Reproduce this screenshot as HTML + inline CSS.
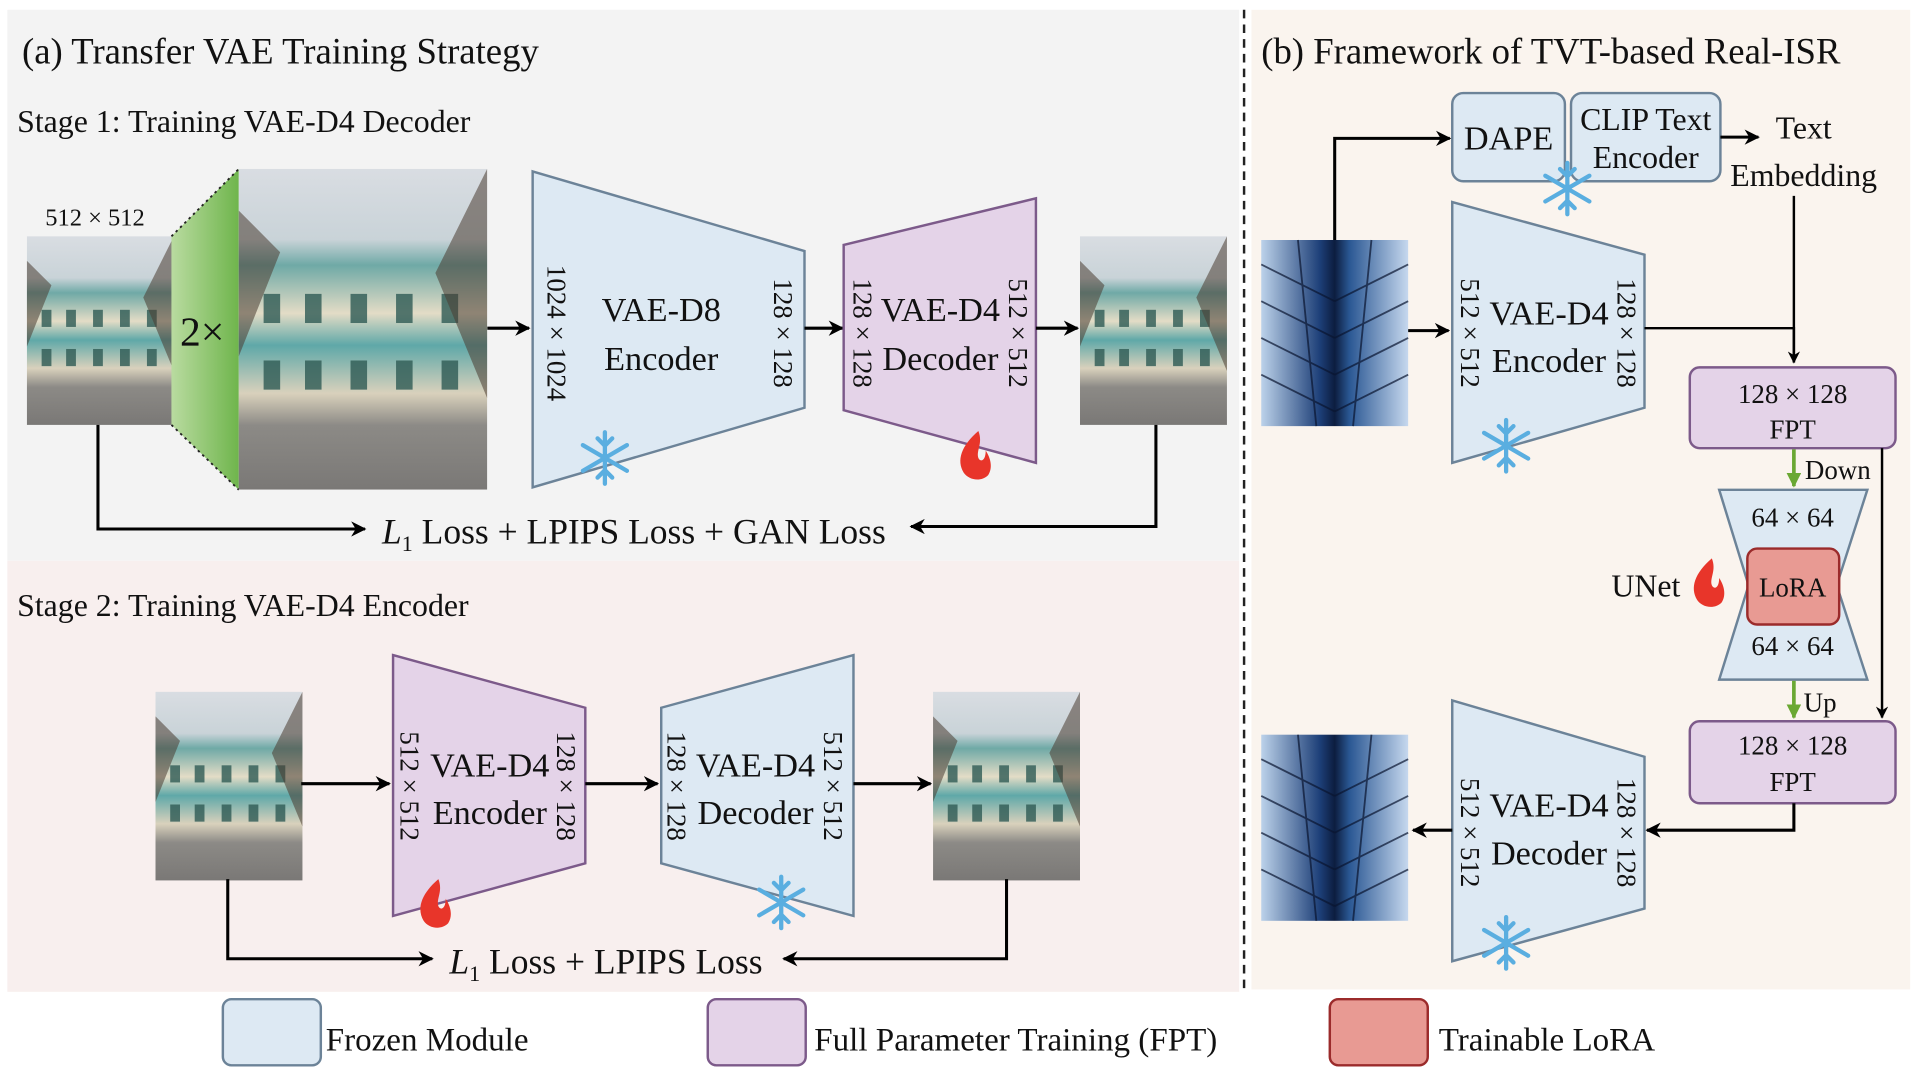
<!DOCTYPE html>
<html><head><meta charset="utf-8"><style>
html,body{margin:0;padding:0;background:#fff;}
svg{display:block;}
text{font-family:"Liberation Serif",serif;fill:#111;}
</style></head><body>
<svg width="1920" height="1080" viewBox="0 0 1568 882" preserveAspectRatio="none" xmlns="http://www.w3.org/2000/svg">
<defs>
<marker id="ah" viewBox="0 0 10 10" refX="9" refY="5" markerWidth="5" markerHeight="5" orient="auto"><path d="M0,0 L10,5 L0,10 L3,5 z" fill="#000"/></marker>
<marker id="gh" viewBox="0 0 10 10" refX="9" refY="5" markerWidth="4" markerHeight="4" orient="auto"><path d="M0,0 L10,5 L0,10 z" fill="#6aa833"/></marker>
<linearGradient id="bld" x1="0" y1="0" x2="0" y2="1">
<stop offset="0" stop-color="#d9dde2"/><stop offset="0.22" stop-color="#c9d3d8"/><stop offset="0.3" stop-color="#6fa9a6"/><stop offset="0.45" stop-color="#e3dcc6"/><stop offset="0.55" stop-color="#5fa8a8"/><stop offset="0.7" stop-color="#d9d1bc"/><stop offset="0.8" stop-color="#8c8a86"/><stop offset="1" stop-color="#7a7876"/>
</linearGradient>
<linearGradient id="sky" x1="0" y1="0" x2="1" y2="0">
<stop offset="0" stop-color="#bcd2ea"/><stop offset="0.4" stop-color="#1d3f78"/><stop offset="0.5" stop-color="#0c1d3f"/><stop offset="0.6" stop-color="#2a5793"/><stop offset="1" stop-color="#c6d8ee"/>
</linearGradient>
<linearGradient id="grn" x1="0" y1="0" x2="1" y2="0"><stop offset="0" stop-color="#b9dba0"/><stop offset="1" stop-color="#6fb54c"/></linearGradient>
<g id="snow"><g stroke="#5aaee0" stroke-width="3.5" stroke-linecap="round">
<line x1="0" y1="-21" x2="0" y2="21"/><line x1="-18" y1="-10.5" x2="18" y2="10.5"/><line x1="-18" y1="10.5" x2="18" y2="-10.5"/>
<path d="M-6,-16 L0,-10 L6,-16 M-6,16 L0,10 L6,16" fill="none"/></g></g>
<g id="flame"><path d="M2,-20 C-12,-8 -16,4 -10,14 C-6,20 4,22 10,16 C14,10 12,2 8,-4 C8,4 4,6 2,2 C0,-4 6,-10 2,-20 z" fill="#e8352a"/></g>
<g id="building">
<rect x="0" y="0" width="120" height="154" fill="url(#bld)"/>
<g fill="#2f5b55" opacity="0.8"><rect x="12" y="60" width="8" height="14"/><rect x="32" y="60" width="8" height="14"/><rect x="54" y="60" width="8" height="14"/><rect x="76" y="60" width="8" height="14"/><rect x="98" y="60" width="8" height="14"/>
<rect x="12" y="92" width="8" height="14"/><rect x="32" y="92" width="8" height="14"/><rect x="54" y="92" width="8" height="14"/><rect x="76" y="92" width="8" height="14"/><rect x="98" y="92" width="8" height="14"/></g>
<path d="M0,20 L20,40 L0,90 z M120,0 L95,50 L120,110 z" fill="#4a3d32" opacity="0.55"/>
</g>
<g id="tower">
<rect x="0" y="0" width="120" height="152" fill="url(#sky)"/>
<g stroke="#0a1530" stroke-width="1.5" opacity="0.7">
<line x1="0" y1="20" x2="60" y2="50"/><line x1="0" y1="50" x2="60" y2="80"/><line x1="0" y1="80" x2="60" y2="110"/><line x1="0" y1="110" x2="60" y2="140"/>
<line x1="120" y1="20" x2="60" y2="50"/><line x1="120" y1="50" x2="60" y2="80"/><line x1="120" y1="80" x2="60" y2="110"/><line x1="120" y1="110" x2="60" y2="140"/>
<line x1="30" y1="0" x2="45" y2="152"/><line x1="90" y1="0" x2="75" y2="152"/></g>
</g>
</defs>

<rect x="6" y="8" width="1006" height="450" fill="#f3f3f3"/>
<rect x="6" y="458" width="1006" height="352" fill="#f8efee"/>
<rect x="1022" y="8" width="538" height="800" fill="#faf4ee"/>
<line x1="1016" y1="8" x2="1016" y2="812" stroke="#222" stroke-width="2" stroke-dasharray="7,5"/>

<text x="18" y="52" font-size="30">(a) Transfer VAE Training Strategy</text>
<text x="14" y="108" font-size="26">Stage 1: Training VAE-D4 Decoder</text>
<text x="37" y="184" font-size="20">512 × 512</text>
<use href="#building" x="22" y="193"/>
<polygon points="140,193 195,138 195,400 140,347" fill="url(#grn)"/>
<line x1="140" y1="193" x2="195" y2="138" stroke="#222" stroke-width="1.5" stroke-dasharray="2,3"/>
<line x1="140" y1="347" x2="195" y2="400" stroke="#222" stroke-width="1.5" stroke-dasharray="2,3"/>
<text x="147" y="282" font-size="34">2×</text>
<use href="#building" transform="translate(195,138) scale(1.69,1.7)"/>
<line x1="398" y1="268" x2="432" y2="268" stroke="#000" stroke-width="2.5" marker-end="url(#ah)"/>
<polygon points="435,140 657,205 657,333 435,398" fill="#dde9f3" stroke="#6c8398" stroke-width="2"/>
<text x="540" y="262" font-size="28" text-anchor="middle">VAE-D8</text>
<text x="540" y="302" font-size="28" text-anchor="middle">Encoder</text>
<text transform="translate(447,272) rotate(90)" font-size="22" text-anchor="middle">1024 × 1024</text>
<text transform="translate(632,272) rotate(90)" font-size="22" text-anchor="middle">128 × 128</text>
<use href="#snow" x="494" y="374"/>
<line x1="657" y1="268" x2="688" y2="268" stroke="#000" stroke-width="2.5" marker-end="url(#ah)"/>
<polygon points="689,200 846,162 846,378 689,335" fill="#e4d3e8" stroke="#7c5a8a" stroke-width="2"/>
<text x="768" y="262" font-size="28" text-anchor="middle">VAE-D4</text>
<text x="768" y="302" font-size="28" text-anchor="middle">Decoder</text>
<text transform="translate(697,272) rotate(90)" font-size="22" text-anchor="middle">128 × 128</text>
<text transform="translate(824,272) rotate(90)" font-size="22" text-anchor="middle">512 × 512</text>
<use href="#flame" x="797" y="372"/>
<line x1="846" y1="268" x2="880" y2="268" stroke="#000" stroke-width="2.5" marker-end="url(#ah)"/>
<use href="#building" x="882" y="193"/>
<polyline points="80,347 80,432 298,432" fill="none" stroke="#000" stroke-width="2.5" marker-end="url(#ah)"/>
<polyline points="944,347 944,430 744,430" fill="none" stroke="#000" stroke-width="2.5" marker-end="url(#ah)"/>
<text x="312" y="444" font-size="29"><tspan font-style="italic">L</tspan><tspan font-size="18" dy="6">1</tspan><tspan dy="-6"> Loss + LPIPS Loss + GAN Loss</tspan></text>

<text x="14" y="503" font-size="26">Stage 2: Training VAE-D4 Encoder</text>
<use href="#building" x="127" y="565"/>
<line x1="246" y1="640" x2="318" y2="640" stroke="#000" stroke-width="2.5" marker-end="url(#ah)"/>
<polygon points="321,535 478,578 478,705 321,748" fill="#e4d3e8" stroke="#7c5a8a" stroke-width="2"/>
<text x="400" y="634" font-size="28" text-anchor="middle">VAE-D4</text>
<text x="400" y="673" font-size="28" text-anchor="middle">Encoder</text>
<text transform="translate(327,642) rotate(90)" font-size="22" text-anchor="middle">512 × 512</text>
<text transform="translate(455,642) rotate(90)" font-size="22" text-anchor="middle">128 × 128</text>
<use href="#flame" x="356" y="738"/>
<line x1="478" y1="640" x2="537" y2="640" stroke="#000" stroke-width="2.5" marker-end="url(#ah)"/>
<polygon points="540,578 697,535 697,748 540,705" fill="#dde9f3" stroke="#6c8398" stroke-width="2"/>
<text x="617" y="634" font-size="28" text-anchor="middle">VAE-D4</text>
<text x="617" y="673" font-size="28" text-anchor="middle">Decoder</text>
<text transform="translate(545,642) rotate(90)" font-size="22" text-anchor="middle">128 × 128</text>
<text transform="translate(673,642) rotate(90)" font-size="22" text-anchor="middle">512 × 512</text>
<use href="#snow" x="638" y="737"/>
<line x1="697" y1="640" x2="760" y2="640" stroke="#000" stroke-width="2.5" marker-end="url(#ah)"/>
<use href="#building" x="762" y="565"/>
<polyline points="186,718 186,783 353,783" fill="none" stroke="#000" stroke-width="2.5" marker-end="url(#ah)"/>
<polyline points="822,718 822,783 640,783" fill="none" stroke="#000" stroke-width="2.5" marker-end="url(#ah)"/>
<text x="367" y="795" font-size="29"><tspan font-style="italic">L</tspan><tspan font-size="18" dy="6">1</tspan><tspan dy="-6"> Loss + LPIPS Loss</tspan></text>

<rect x="182" y="816" width="80" height="54" rx="7" fill="#dde9f3" stroke="#6c8398" stroke-width="2"/>
<text x="266" y="858" font-size="27">Frozen Module</text>
<rect x="578" y="816" width="80" height="54" rx="7" fill="#e4d3e8" stroke="#7c5a8a" stroke-width="2"/>
<text x="665" y="858" font-size="27">Full Parameter Training (FPT)</text>
<rect x="1086" y="816" width="80" height="54" rx="7" fill="#e89a93" stroke="#9b2b2b" stroke-width="2"/>
<text x="1175" y="858" font-size="27">Trainable LoRA</text>

<text x="1030" y="52" font-size="30">(b) Framework of TVT-based Real-ISR</text>
<rect x="1186" y="76" width="92" height="72" rx="9" fill="#dde9f3" stroke="#6c8398" stroke-width="2"/>
<text x="1232" y="122" font-size="28" text-anchor="middle">DAPE</text>
<rect x="1283" y="76" width="122" height="72" rx="9" fill="#dde9f3" stroke="#6c8398" stroke-width="2"/>
<text x="1344" y="106" font-size="26" text-anchor="middle">CLIP Text</text>
<text x="1344" y="137" font-size="26" text-anchor="middle">Encoder</text>
<use href="#snow" x="1280" y="154"/>
<line x1="1405" y1="112" x2="1436" y2="112" stroke="#000" stroke-width="2.5" marker-end="url(#ah)"/>
<text x="1473" y="113" font-size="26" text-anchor="middle">Text</text>
<text x="1473" y="152" font-size="26" text-anchor="middle">Embedding</text>
<use href="#tower" x="1030" y="196"/>
<polyline points="1090,196 1090,113 1184,113" fill="none" stroke="#000" stroke-width="2.5" marker-end="url(#ah)"/>
<line x1="1150" y1="270" x2="1183" y2="270" stroke="#000" stroke-width="2.5" marker-end="url(#ah)"/>
<polygon points="1186,165 1343,208 1343,333 1186,378" fill="#dde9f3" stroke="#6c8398" stroke-width="2"/>
<text x="1265" y="265" font-size="28" text-anchor="middle">VAE-D4</text>
<text x="1265" y="304" font-size="28" text-anchor="middle">Encoder</text>
<text transform="translate(1193,272) rotate(90)" font-size="22" text-anchor="middle">512 × 512</text>
<text transform="translate(1321,272) rotate(90)" font-size="22" text-anchor="middle">128 × 128</text>
<use href="#snow" x="1230" y="364"/>
<polyline points="1343,268 1465,268 1465,296" fill="none" stroke="#000" stroke-width="2" marker-end="url(#ah)"/>
<line x1="1465" y1="160" x2="1465" y2="296" stroke="#000" stroke-width="2"/>
<rect x="1380" y="300" width="168" height="66" rx="8" fill="#e4d3e8" stroke="#7c5a8a" stroke-width="2"/>
<text x="1464" y="329" font-size="22" text-anchor="middle">128 × 128</text>
<text x="1464" y="358" font-size="22" text-anchor="middle">FPT</text>
<line x1="1465" y1="367" x2="1465" y2="397" stroke="#6aa833" stroke-width="3" marker-end="url(#gh)"/>
<text x="1474" y="391" font-size="22">Down</text>
<polygon points="1404,400 1525,400 1500,478 1525,555 1404,555 1428,478" fill="#dde9f3" stroke="#6c8398" stroke-width="2"/>
<text x="1464" y="430" font-size="22" text-anchor="middle">64 × 64</text>
<text x="1464" y="535" font-size="22" text-anchor="middle">64 × 64</text>
<rect x="1427" y="448" width="75" height="62" rx="8" fill="#e89a93" stroke="#9b2b2b" stroke-width="2"/>
<text x="1464" y="487" font-size="22" text-anchor="middle">LoRA</text>
<text x="1316" y="487" font-size="26">UNet</text>
<use href="#flame" x="1396" y="476"/>
<line x1="1465" y1="556" x2="1465" y2="586" stroke="#6aa833" stroke-width="3" marker-end="url(#gh)"/>
<text x="1473" y="581" font-size="22">Up</text>
<polyline points="1537,366 1537,586" fill="none" stroke="#000" stroke-width="2" marker-end="url(#ah)"/>
<rect x="1380" y="589" width="168" height="67" rx="8" fill="#e4d3e8" stroke="#7c5a8a" stroke-width="2"/>
<text x="1464" y="616" font-size="22" text-anchor="middle">128 × 128</text>
<text x="1464" y="646" font-size="22" text-anchor="middle">FPT</text>
<polyline points="1465,656 1465,678 1345,678" fill="none" stroke="#000" stroke-width="2.5" marker-end="url(#ah)"/>
<polygon points="1186,572 1343,618 1343,742 1186,785" fill="#dde9f3" stroke="#6c8398" stroke-width="2"/>
<text x="1265" y="667" font-size="28" text-anchor="middle">VAE-D4</text>
<text x="1265" y="706" font-size="28" text-anchor="middle">Decoder</text>
<text transform="translate(1193,680) rotate(90)" font-size="22" text-anchor="middle">512 × 512</text>
<text transform="translate(1321,680) rotate(90)" font-size="22" text-anchor="middle">128 × 128</text>
<use href="#snow" x="1230" y="770"/>
<line x1="1186" y1="678" x2="1154" y2="678" stroke="#000" stroke-width="2.5" marker-end="url(#ah)"/>
<use href="#tower" x="1030" y="600"/>
</svg>
</body></html>
